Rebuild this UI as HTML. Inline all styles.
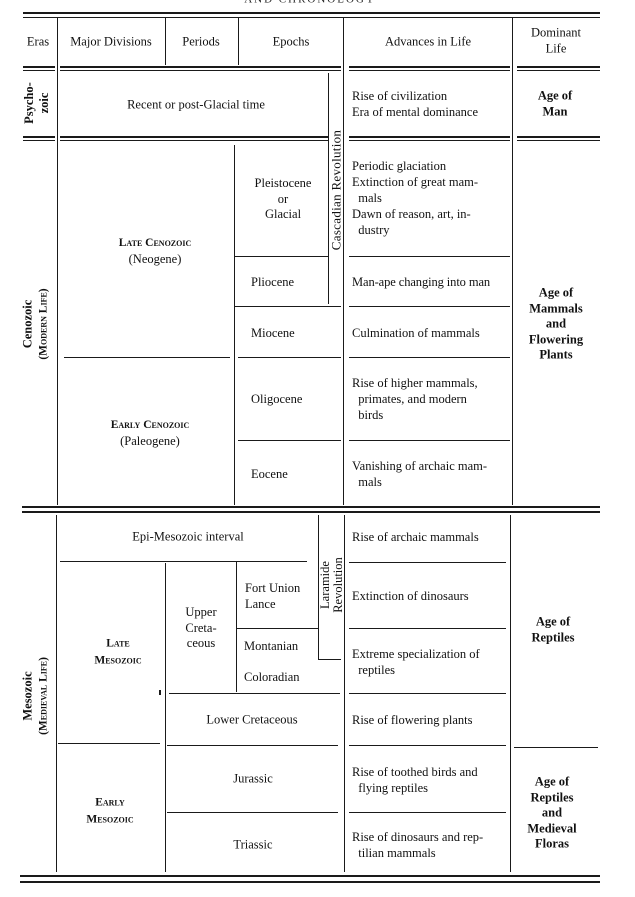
<!DOCTYPE html>
<html><head><meta charset="utf-8"><style>
html,body{margin:0;padding:0;background:#fff;}
body{width:635px;height:897px;position:relative;overflow:hidden;font-family:"Liberation Serif",serif;color:#111;font-size:12.5px;}
.h{position:absolute;background:#1a1a1a;height:1.4px;}
.v{position:absolute;background:#1a1a1a;width:1.4px;}
.c{position:absolute;transform:translate(-50%,-50%);text-align:center;white-space:nowrap;line-height:15.5px;}
.l{position:absolute;white-space:nowrap;line-height:16px;}
.b{font-weight:bold;}
.sc{font-variant:small-caps;font-size:11.5px;font-weight:bold;}
.r{position:absolute;transform:translate(-50%,-50%) rotate(-90deg);white-space:nowrap;text-align:center;line-height:15px;}
</style></head><body>
<div class="c" style="left:310px;top:0px;color:#222;font-size:11px;letter-spacing:2px;">AND CHRONOLOGY</div>
<!-- top -->
<div class="h" style="left:23px;top:12px;width:577px;height:2.2px"></div>
<div class="h" style="left:23px;top:17px;width:577px;height:1.2px"></div>
<!-- verticals -->
<div class="v" style="left:57px;top:18px;height:487px"></div>
<div class="v" style="left:165px;top:18px;height:47px"></div>
<div class="v" style="left:238px;top:18px;height:47px"></div>
<div class="v" style="left:343px;top:18px;height:487px"></div>
<div class="v" style="left:512px;top:18px;height:487px"></div>
<div class="v" style="left:328px;top:73px;height:231px"></div>
<div class="v" style="left:234px;top:145px;height:360px"></div>
<!-- header bottom double -->
<div class="h" style="left:23px;top:66px;width:32px;height:2px"></div><div class="h" style="left:23px;top:70px;width:32px"></div>
<div class="h" style="left:60px;top:66px;width:281px;height:2px"></div><div class="h" style="left:60px;top:70px;width:281px"></div>
<div class="h" style="left:349px;top:66px;width:161px;height:2px"></div><div class="h" style="left:349px;top:70px;width:161px"></div>
<div class="h" style="left:517px;top:66px;width:83px;height:2px"></div><div class="h" style="left:517px;top:70px;width:83px"></div>
<!-- psychozoic bottom -->
<div class="h" style="left:23px;top:136px;width:32px;height:2px"></div><div class="h" style="left:23px;top:140px;width:32px"></div>
<div class="h" style="left:60px;top:136px;width:268px;height:2px"></div><div class="h" style="left:60px;top:140px;width:268px"></div>
<div class="h" style="left:349px;top:136px;width:161px;height:2px"></div><div class="h" style="left:349px;top:140px;width:161px"></div>
<div class="h" style="left:517px;top:136px;width:83px;height:2px"></div><div class="h" style="left:517px;top:140px;width:83px"></div>
<!-- cenozoic lines -->
<div class="h" style="left:234px;top:256px;width:94px"></div><div class="h" style="left:349px;top:256px;width:161px"></div>
<div class="h" style="left:234px;top:306px;width:107px"></div><div class="h" style="left:349px;top:306px;width:161px"></div>
<div class="h" style="left:64px;top:357px;width:166px"></div>
<div class="h" style="left:238px;top:357px;width:103px"></div><div class="h" style="left:349px;top:357px;width:161px"></div>
<div class="h" style="left:238px;top:440px;width:103px"></div><div class="h" style="left:349px;top:440px;width:161px"></div>
<!-- middle double -->
<div class="h" style="left:22px;top:506px;width:578px;height:2.2px"></div>
<div class="h" style="left:22px;top:511px;width:578px;height:1.6px"></div>
<!-- mesozoic verticals -->
<div class="v" style="left:56px;top:515px;height:357px"></div>
<div class="v" style="left:344px;top:515px;height:357px"></div>
<div class="v" style="left:510px;top:515px;height:357px"></div>
<div class="v" style="left:318px;top:515px;height:144px"></div>
<div class="h" style="left:318px;top:659px;width:23px"></div>
<div class="v" style="left:165px;top:563px;height:309px"></div>
<div class="v" style="left:236px;top:562px;height:130px"></div>
<div class="h" style="left:60px;top:561px;width:247px"></div><div class="h" style="left:349px;top:562px;width:157px"></div>
<div class="h" style="left:236px;top:628px;width:82px"></div><div class="h" style="left:349px;top:628px;width:157px"></div>
<div class="h" style="left:169px;top:693px;width:171px"></div><div class="h" style="left:349px;top:693px;width:157px"></div>
<div class="v" style="left:159px;top:690px;height:5px;width:2px"></div>
<div class="h" style="left:58px;top:743px;width:102px"></div>
<div class="h" style="left:167px;top:745px;width:171px"></div><div class="h" style="left:349px;top:745px;width:157px"></div>
<div class="h" style="left:514px;top:747px;width:84px"></div>
<div class="h" style="left:167px;top:812px;width:171px"></div><div class="h" style="left:349px;top:812px;width:157px"></div>
<!-- bottom -->
<div class="h" style="left:20px;top:875px;width:580px;height:2.4px"></div>
<div class="h" style="left:20px;top:881px;width:580px;height:1.6px"></div>

<!-- header text -->
<div class="c" style="left:38px;top:42px">Eras</div>
<div class="c" style="left:111px;top:42px">Major Divisions</div>
<div class="c" style="left:201px;top:42px">Periods</div>
<div class="c" style="left:291px;top:42px">Epochs</div>
<div class="c" style="left:428px;top:42px">Advances in Life</div>
<div class="c" style="left:556px;top:41px">Dominant<br>Life</div>

<!-- psychozoic -->
<div class="r b" style="left:37px;top:103px">Psycho-<br>zoic</div>
<div class="c" style="left:196px;top:105px">Recent or post-Glacial time</div>
<div class="l" style="left:352px;top:88px">Rise of civilization<br>Era of mental dominance</div>
<div class="c b" style="left:555px;top:104px">Age of<br>Man</div>
<div class="r" style="left:336px;top:190px;font-size:13px;letter-spacing:0.3px">Cascadian Revolution</div>

<!-- cenozoic -->
<div class="r b" style="left:36px;top:324px">Cenozoic<br><span class="sc">(Modern Life)</span></div>
<div class="c" style="left:155px;top:251px"><span class="sc">Late Cenozoic</span><br>(Neogene)</div>
<div class="c" style="left:283px;top:199px">Pleistocene<br>or<br>Glacial</div>
<div class="l" style="left:251px;top:274px">Pliocene</div>
<div class="l" style="left:251px;top:325px">Miocene</div>
<div class="l" style="left:251px;top:391px">Oligocene</div>
<div class="l" style="left:251px;top:466px">Eocene</div>
<div class="c" style="left:150px;top:433px"><span class="sc">Early Cenozoic</span><br>(Paleogene)</div>
<div class="l" style="left:352px;top:158px">Periodic glaciation<br>Extinction of great mam-<br>&nbsp;&nbsp;mals<br>Dawn of reason, art, in-<br>&nbsp;&nbsp;dustry</div>
<div class="l" style="left:352px;top:274px;letter-spacing:-0.1px">Man-ape changing into man</div>
<div class="l" style="left:352px;top:325px">Culmination of mammals</div>
<div class="l" style="left:352px;top:375px">Rise of higher mammals,<br>&nbsp;&nbsp;primates, and modern<br>&nbsp;&nbsp;birds</div>
<div class="l" style="left:352px;top:458px">Vanishing of archaic mam-<br>&nbsp;&nbsp;mals</div>
<div class="c b" style="left:556px;top:324px">Age of<br>Mammals<br>and<br>Flowering<br>Plants</div>

<!-- mesozoic -->
<div class="r b" style="left:36px;top:696px">Mesozoic<br><span class="sc">(Medieval Life)</span></div>
<div class="c" style="left:188px;top:537px">Epi-Mesozoic interval</div>
<div class="r" style="left:332px;top:585px;line-height:13px;font-size:12.5px">Laramide<br>Revolution</div>
<div class="l" style="left:352px;top:529px">Rise of archaic mammals</div>
<div class="l" style="left:245px;top:580px">Fort Union<br>Lance</div>
<div class="c" style="left:201px;top:628px">Upper<br>Creta-<br>ceous</div>
<div class="l" style="left:244px;top:638px">Montanian</div>
<div class="l" style="left:244px;top:669px">Coloradian</div>
<div class="c" style="left:118px;top:652px"><span class="sc">Late<br>Mesozoic</span></div>
<div class="l" style="left:352px;top:588px">Extinction of dinosaurs</div>
<div class="l" style="left:352px;top:646px">Extreme specialization of<br>&nbsp;&nbsp;reptiles</div>
<div class="c b" style="left:553px;top:630px">Age of<br>Reptiles</div>
<div class="c" style="left:252px;top:720px">Lower Cretaceous</div>
<div class="l" style="left:352px;top:712px">Rise of flowering plants</div>
<div class="c" style="left:253px;top:779px">Jurassic</div>
<div class="c" style="left:253px;top:845px">Triassic</div>
<div class="c" style="left:110px;top:811px"><span class="sc">Early<br>Mesozoic</span></div>
<div class="l" style="left:352px;top:764px">Rise of toothed birds and<br>&nbsp;&nbsp;flying reptiles</div>
<div class="l" style="left:352px;top:829px">Rise of dinosaurs and rep-<br>&nbsp;&nbsp;tilian mammals</div>
<div class="c b" style="left:552px;top:813px">Age of<br>Reptiles<br>and<br>Medieval<br>Floras</div>
</body></html>
